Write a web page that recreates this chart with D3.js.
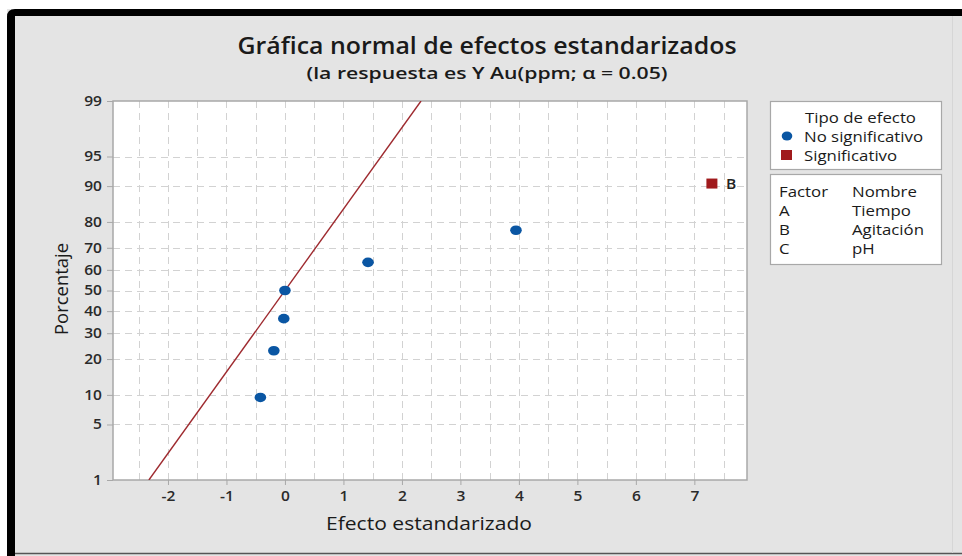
<!DOCTYPE html>
<html>
<head>
<meta charset="utf-8">
<script src="https://cdn.jsdelivr.net/npm/d3@7"></script>
<style>
  html, body { margin: 0; padding: 0; background: #ffffff; }
  svg { display: block; }
  text { font-family: "Open Sans", "Noto Sans", sans-serif; }
</style>
</head>
<body>
<svg id="chart" width="962" height="556"></svg>
<script>
// ---- Data ----
const factors = ["A", "B", "C"];
const factorNames = ["Tiempo", "Agitación", "pH"];
const effectLabels = ["e1", "e2", "e3", "e4", "e5", "e6", "B"];
const effectValues = [-0.42, -0.19, -0.02, 0.0, 1.42, 3.95, 7.30];
const effectPercents = [9.46, 22.97, 36.49, 50.0, 63.51, 77.03, 90.54];
const effectSignificant = [false, false, false, false, false, false, true];
const yTicks = [1, 5, 10, 20, 30, 40, 50, 60, 70, 80, 90, 95, 99];
const xTicks = [-2, -1, 0, 1, 2, 3, 4, 5, 6, 7];
const xGrid = [-2.5, -2, -1.5, -1, -0.5, 0, 0.5, 1, 1.5, 2, 2.5, 3, 3.5, 4, 4.5, 5, 5.5, 6, 6.5, 7, 7.5];
const refLinePercents = [1, 99];

// inverse normal CDF (Acklam)
function probit(p) {
  const a = [-3.969683028665376e+01, 2.209460984245205e+02, -2.759285104469687e+02, 1.383577518672690e+02, -3.066479806614716e+01, 2.506628277459239e+00];
  const b = [-5.447609879822406e+01, 1.615858368580409e+02, -1.556989798598866e+02, 6.680131188771972e+01, -1.328068155288572e+01];
  const c = [-7.784894002430293e-03, -3.223964580411365e-01, -2.400758277161838e+00, -2.549732539343734e+00, 4.374664141464968e+00, 2.938163982698783e+00];
  const d = [7.784695709041462e-03, 3.224671290700398e-01, 2.445134137142996e+00, 3.754408661907416e+00];
  const pl = 0.02425;
  let q, r;
  if (p < pl) {
    q = Math.sqrt(-2 * Math.log(p));
    return (((((c[0]*q+c[1])*q+c[2])*q+c[3])*q+c[4])*q+c[5]) / ((((d[0]*q+d[1])*q+d[2])*q+d[3])*q+1);
  } else if (p <= 1 - pl) {
    q = p - 0.5; r = q*q;
    return (((((a[0]*r+a[1])*r+a[2])*r+a[3])*r+a[4])*r+a[5])*q / (((((b[0]*r+b[1])*r+b[2])*r+b[3])*r+b[4])*r+1);
  } else {
    q = Math.sqrt(-2 * Math.log(1 - p));
    return -(((((c[0]*q+c[1])*q+c[2])*q+c[3])*q+c[4])*q+c[5]) / ((((d[0]*q+d[1])*q+d[2])*q+d[3])*q+1);
  }
}

// widen glyphs horizontally (reference picture is slightly stretched)
function stretch(sel, f) {
  sel.each(function () {
    const l = this.getComputedTextLength();
    d3.select(this).attr("textLength", l * f).attr("lengthAdjust", "spacingAndGlyphs");
  });
}

const svg = d3.select("#chart");
const W = 962, H = 556;

// background & frame
svg.append("rect").attr("x", 7).attr("y", 9).attr("width", W - 7).attr("height", H - 9).attr("fill", "#e4e4e4");
svg.append("path")
  .attr("d", `M7,556 L7,17 Q7,9 15,9 L962,9 L962,16 L15,16 L15,556 Z`)
  .attr("fill", "#000");
svg.append("line").attr("x1", 15).attr("x2", 962).attr("y1", 553.5).attr("y2", 553.5).attr("stroke", "#555").attr("stroke-width", 1.5);
svg.append("line").attr("x1", 952.5).attr("x2", 952.5).attr("y1", 16).attr("y2", 553).attr("stroke", "#d6d6d6").attr("stroke-width", 1);

// plot region
const plot = { left: 113, right: 747, top: 101, bottom: 480 };
const x = d3.scaleLinear().domain([-2.94, 7.90]).range([plot.left, plot.right]);
const yz = d3.scaleLinear().domain([probit(0.01), probit(0.99)]).range([plot.bottom, plot.top]);
const y = p => yz(probit(p / 100));

svg.append("rect").attr("x", plot.left).attr("y", plot.top)
  .attr("width", plot.right - plot.left).attr("height", plot.bottom - plot.top)
  .attr("fill", "#fff");

// grid
const grid = svg.append("g").attr("stroke", "#d2d2d2").attr("stroke-width", 1).attr("stroke-dasharray", "7,5");
grid.selectAll("line.v").data(xGrid).join("line").attr("class", "v")
  .attr("x1", d => Math.round(x(d)) + 0.5).attr("x2", d => Math.round(x(d)) + 0.5)
  .attr("y1", plot.top).attr("y2", plot.bottom);
grid.selectAll("line.h").data(yTicks.filter(t => t > 1 && t < 99)).join("line").attr("class", "h")
  .attr("x1", plot.left).attr("x2", plot.right)
  .attr("y1", d => Math.round(y(d)) + 0.5).attr("y2", d => Math.round(y(d)) + 0.5);

// frame
svg.append("rect").attr("x", plot.left).attr("y", plot.top)
  .attr("width", plot.right - plot.left).attr("height", plot.bottom - plot.top)
  .attr("fill", "none").attr("stroke", "#a8a8a8").attr("stroke-width", 1.5);

// axes
const xAxis = d3.axisBottom(x).tickValues(xTicks).tickSize(5).tickPadding(6).tickFormat(d3.format("d"));
const gx = svg.append("g").attr("transform", `translate(0,${plot.bottom})`).call(xAxis);
gx.select(".domain").remove();
gx.selectAll(".tick line").attr("stroke", "#a8a8a8");
gx.selectAll(".tick text").attr("fill", "#2a2a2a").attr("font-size", 13.5).attr("font-weight", 600)
  .style("font-family", "'Open Sans', sans-serif").text(d => d < 0 ? "-" + Math.abs(d) : d);
stretch(gx.selectAll(".tick text"), 1.15);

const yAxis = d3.axisLeft(yz).tickValues(yTicks.map(t => probit(t / 100))).tickSize(6).tickPadding(5)
  .tickFormat((d, i) => yTicks[i]);
const gy = svg.append("g").attr("transform", `translate(${plot.left},0)`).call(yAxis);
gy.select(".domain").remove();
gy.selectAll(".tick line").attr("stroke", "#a8a8a8");
gy.selectAll(".tick text").attr("fill", "#2a2a2a").attr("font-size", 13.5).attr("font-weight", 600)
  .style("font-family", "'Open Sans', sans-serif");
stretch(gy.selectAll(".tick text"), 1.15);

// reference line
svg.append("clipPath").attr("id", "pc").append("rect")
  .attr("x", plot.left).attr("y", plot.top).attr("width", plot.right - plot.left).attr("height", plot.bottom - plot.top);
svg.append("line")
  .attr("clip-path", "url(#pc)")
  .attr("x1", x(probit(refLinePercents[0] / 100))).attr("y1", y(refLinePercents[0]))
  .attr("x2", x(probit(refLinePercents[1] / 100))).attr("y2", y(refLinePercents[1]))
  .attr("stroke", "#9e2a2f").attr("stroke-width", 1.4);

// points
const pts = effectValues.map((v, i) => ({ v, p: effectPercents[i], sig: effectSignificant[i], label: effectLabels[i] }));
svg.selectAll("ellipse.pt").data(pts.filter(d => !d.sig)).join("ellipse").attr("class", "pt")
  .attr("cx", d => x(d.v)).attr("cy", d => y(d.p)).attr("rx", 5.8).attr("ry", 4.8)
  .attr("fill", "#0a56a3");
svg.selectAll("rect.pt").data(pts.filter(d => d.sig)).join("rect").attr("class", "pt")
  .attr("x", d => x(d.v) - 5.5).attr("y", d => y(d.p) - 5).attr("width", 11).attr("height", 10)
  .attr("fill", "#a01a1c");
const bl = svg.selectAll("text.pl").data(pts.filter(d => d.sig)).join("text").attr("class", "pl")
  .attr("x", d => x(d.v) + 14).attr("y", d => y(d.p) + 5)
  .attr("font-size", 13.5).attr("font-weight", 600).attr("fill", "#222").text(d => d.label);
stretch(bl, 1.15);

// titles
svg.append("text").attr("x", 487).attr("y", 54).attr("text-anchor", "middle")
  .attr("font-size", 23).attr("font-weight", 600).attr("fill", "#1a1a1a")
  .attr("textLength", 499).attr("lengthAdjust", "spacingAndGlyphs")
  .text("Gráfica normal de efectos estandarizados");
svg.append("text").attr("x", 487).attr("y", 79).attr("text-anchor", "middle")
  .attr("font-size", 17).attr("font-weight", 600).attr("fill", "#1a1a1a")
  .attr("textLength", 361).attr("lengthAdjust", "spacingAndGlyphs")
  .text("(la respuesta es Y Au(ppm; α = 0.05)");
svg.append("text").attr("x", 429).attr("y", 530).attr("text-anchor", "middle")
  .attr("font-size", 18).attr("font-weight", 500).attr("fill", "#1a1a1a")
  .attr("textLength", 206).attr("lengthAdjust", "spacingAndGlyphs")
  .text("Efecto estandarizado");
svg.append("text").attr("transform", `translate(68,${289}) rotate(-90)`)
  .attr("text-anchor", "middle")
  .attr("font-size", 18).attr("font-weight", 500).attr("fill", "#1a1a1a")
  .attr("textLength", 92).attr("lengthAdjust", "spacingAndGlyphs")
  .text("Porcentaje");

// legend 1
const LF = 14, LS = 1.2;
const lg1 = svg.append("g");
lg1.append("rect").attr("x", 770.5).attr("y", 101.5).attr("width", 171).attr("height", 68)
  .attr("fill", "#fff").attr("stroke", "#a8a8a8").attr("stroke-width", 1.2);
lg1.append("text").attr("x", 805).attr("y", 123).attr("class", "lt").text("Tipo de efecto");
lg1.append("ellipse").attr("cx", 787).attr("cy", 136).attr("rx", 5.3).attr("ry", 4.5).attr("fill", "#0a56a3");
lg1.append("text").attr("x", 804).attr("y", 142).attr("class", "lt").text("No significativo");
lg1.append("rect").attr("x", 781).attr("y", 150).attr("width", 11).attr("height", 10).attr("fill", "#a01a1c");
lg1.append("text").attr("x", 804).attr("y", 161).attr("class", "lt").text("Significativo");

// legend 2
const lg2 = svg.append("g");
lg2.append("rect").attr("x", 770.5).attr("y", 174.5).attr("width", 171).attr("height", 90)
  .attr("fill", "#fff").attr("stroke", "#a8a8a8").attr("stroke-width", 1.2);
lg2.append("text").attr("x", 779).attr("y", 197).attr("class", "lt").text("Factor");
lg2.append("text").attr("x", 852).attr("y", 197).attr("class", "lt").text("Nombre");
lg2.selectAll("text.f").data(factors).join("text").attr("class", "f lt")
  .attr("x", 779).attr("y", (d, i) => 216 + i * 19).text(d => d);
lg2.selectAll("text.n").data(factorNames).join("text").attr("class", "n lt")
  .attr("x", 852).attr("y", (d, i) => 216 + i * 19).text(d => d);

const lts = svg.selectAll("text.lt").attr("font-size", LF).attr("font-weight", 500).attr("fill", "#1a1a1a");
stretch(lts, LS);
</script>
</body>
</html>
